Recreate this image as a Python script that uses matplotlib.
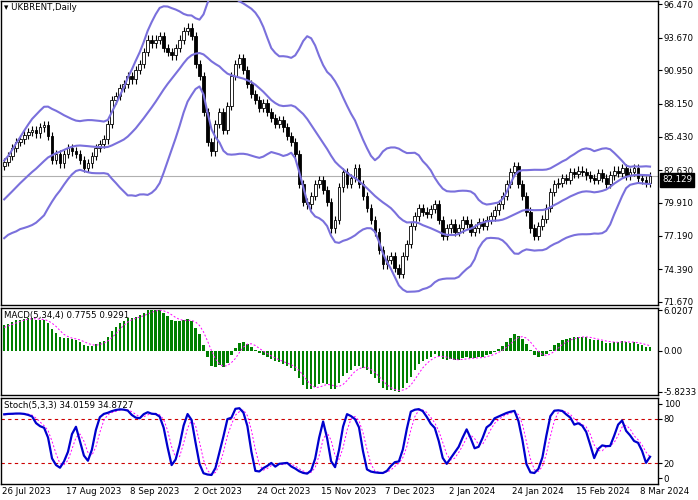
import numpy as np
import pandas as pd
import matplotlib
matplotlib.use("Agg")
import matplotlib.pyplot as plt

# warm-up closes before the visible window (estimated from band positions)
pre_closes = [75.5, 76.0, 75.2, 74.8, 75.6, 76.2, 75.9, 75.3, 74.9, 74.6,
              75.4, 76.1, 76.6, 76.0, 75.8, 76.5, 77.2, 77.8, 78.2, 78.4,
              79.2, 79.6, 79.9, 80.2, 79.8, 80.1, 79.5, 79.9, 80.5, 80.8,
              81.0, 81.5, 81.9, 82.4, 83.0]
closes = [83.3, 83.8, 84.5, 85.0, 85.2,
          85.6, 85.8, 86.0, 85.7, 86.2, 86.4,
          85.5, 83.5, 84.0, 83.2,
          84.0, 84.5, 84.2, 84.0,
          83.5, 82.8, 83.2,
          83.8, 84.5, 84.8, 85.2,
          86.5, 88.5, 88.8,
          89.5, 89.8, 90.5, 90.2,
          91.0, 91.5, 92.5, 93.5, 93.2,
          93.5, 93.8, 92.8,
          92.5, 92.2, 92.8,
          93.5, 94.2, 94.5, 93.8,
          91.5, 90.5,
          87.5, 85.0, 84.2,
          86.5, 87.5, 86.0,
          88.0, 90.5, 91.5, 92.0,
          91.0, 89.8, 89.0,
          88.5, 87.8, 88.2, 87.5,
          87.0, 86.5, 86.8, 86.2,
          85.5, 85.0, 84.0, 81.5,
          80.0, 79.8, 80.5,
          81.5, 81.8, 81.0, 80.0,
          77.8, 78.5, 81.2,
          82.5, 81.5, 82.0,
          82.8, 81.5, 80.5,
          79.5, 78.5, 77.5,
          76.0, 74.8, 75.2,
          75.5, 74.5, 74.0,
          75.5, 76.5, 78.0,
          78.8, 79.5, 79.2,
          79.0, 79.4, 79.8,
          78.5, 77.2, 77.8,
          78.2, 77.5, 77.8,
          78.5, 78.2, 77.5,
          77.8, 78.3, 78.0,
          78.5, 78.8, 79.3,
          79.8, 80.5, 81.5,
          82.5, 83.0, 81.5,
          80.5, 79.2, 77.8,
          77.2, 78.0, 78.6,
          79.5, 80.8, 81.5,
          81.6, 82.0, 81.8,
          82.5, 82.3, 82.6,
          82.5, 82.2, 82.0,
          81.8, 82.4, 82.0,
          81.5, 82.2, 82.6,
          82.4, 82.8, 82.2,
          82.5, 82.8, 82.0,
          81.8, 81.6, 82.129]
date_labels = ["26 Jul 2023", "17 Aug 2023", "8 Sep 2023", "2 Oct 2023", "24 Oct 2023",
               "15 Nov 2023", "7 Dec 2023", "2 Jan 2024", "24 Jan 2024", "15 Feb 2024", "8 Mar 2024"]
price_ticks = [96.470, 93.670, 90.950, 88.150, 85.430, 82.630, 79.910, 77.190, 74.390, 71.670]
macd_tick_labels = ["6.0207", "0.00", "-5.8233"]
last_price = 82.129

allc = pd.Series(pre_closes + closes)
npre = len(pre_closes)
n = len(closes)
x = np.arange(n)
c = np.array(closes)
o = np.array([pre_closes[-1]] + closes[:-1])
hi = np.maximum(o, c) + 0.35
lo = np.minimum(o, c) - 0.35

mid = allc.rolling(20).mean()
sd = allc.rolling(20).std(ddof=0)
up = (mid + 2 * sd).values[npre:]
dn = (mid - 2 * sd).values[npre:]
mid = mid.values[npre:]

ema5 = allc.ewm(span=5, adjust=False).mean()
ema34 = allc.ewm(span=34, adjust=False).mean()
macd = (ema5 - ema34)
sig = macd.rolling(4).mean()
macd = macd.values[npre:]; sig = sig.values[npre:]

hh = (allc + 0.35).rolling(5).max(); ll = (allc - 0.35).rolling(5).min()
raw_num = (allc - ll).rolling(3).sum(); raw_den = (hh - ll).rolling(3).sum()
k = (100 * raw_num / raw_den)
d = k.rolling(3).mean()
k = k.values[npre:]; d = d.values[npre:]

W, H = 698, 500
fig = plt.figure(figsize=(W / 100, H / 100), dpi=100)
plt.rcParams['font.family'] = ['DejaVu Sans']
fs = 6.2
right = 658 / W

def ax_at(top, bot):
    return fig.add_axes([1 / W, 1 - bot / H, right - 1 / W, (bot - top) / H])

ax1 = ax_at(1, 305)
ax2 = ax_at(308, 395)
ax3 = ax_at(398, 484)
for a in (ax1, ax2, ax3):
    a.set_xlim(-0.8, 164)
    a.set_xticks([])
    a.yaxis.tick_right()
    a.tick_params(axis='y', labelsize=fs, length=3, pad=1)
    for s in a.spines.values():
        s.set_linewidth(1.0)

# main
ax1.set_ylim(71.42, 96.72)
ax1.axhline(last_price, color='#b0b0b0', lw=0.8)
ax1.vlines(x, lo, hi, color='black', lw=0.8)
bw = 0.7
for i in range(n):
    b = min(o[i], c[i]); h = max(abs(c[i] - o[i]), 0.05)
    ax1.add_patch(plt.Rectangle((x[i] - bw / 2, b), bw, h,
                                facecolor='white' if c[i] >= o[i] else 'black',
                                edgecolor='black', lw=0.6, zorder=3))
for s in (up, mid, dn):
    ax1.plot(x, s, color='#7a70dc', lw=1.5, zorder=4)
ax1.set_yticks(price_ticks)
ax1.set_yticklabels([f"{v:.3f}" for v in price_ticks])
ax1.text(0.005, 0.995, "\u25be UKBRENT,Daily", transform=ax1.transAxes, fontsize=fs,
         va='top', ha='left')
ax1.text(1.006, (last_price - 71.42) / (96.72 - 71.42) - 0.012, f"{last_price:.3f}",
         transform=ax1.transAxes, fontsize=fs, color='white', va='center', ha='left',
         bbox=dict(facecolor='black', edgecolor='black', pad=1.6), zorder=10)

# macd
ax2.bar(x, macd, width=0.6, color='#008000')
ax2.plot(x, sig, color='#ff00ff', lw=0.7, ls=(0, (2, 2)))
mx, mn = np.nanmax(macd), np.nanmin(macd)
ax2.set_ylim(mn * 1.08, mx * 1.05)
ax2.set_yticks([mx, 0, mn])
ax2.set_yticklabels(macd_tick_labels)
ax2.text(0.005, 0.97, "MACD(5,34,4) 0.7755 0.9291", transform=ax2.transAxes,
         fontsize=fs, va='top', ha='left')

# stoch
ax3.set_ylim(-8, 108)
ax3.axhline(80, color='#cc0000', lw=0.8, ls=(0, (3, 3)))
ax3.axhline(20, color='#cc0000', lw=0.8, ls=(0, (3, 3)))
ax3.plot(x, d, color='#ff00ff', lw=0.7, ls=(0, (2, 2)))
ax3.plot(x, k, color='#0000cd', lw=1.6)
ax3.set_yticks([100, 80, 20, 0])
ax3.text(0.005, 0.97, "Stoch(5,3,3) 34.0159 34.8727", transform=ax3.transAxes,
         fontsize=fs, va='top', ha='left')

for j, lab in enumerate(date_labels):
    xd = j * 16
    px = 1 + (xd + 0.8) / 164.8 * (right * W - 1)
    fig.text(max(px - 2, 0.5) / W, 1 - 492 / H, lab, fontsize=fs, ha='left', va='center')

fig.savefig("out.png", dpi=100)
